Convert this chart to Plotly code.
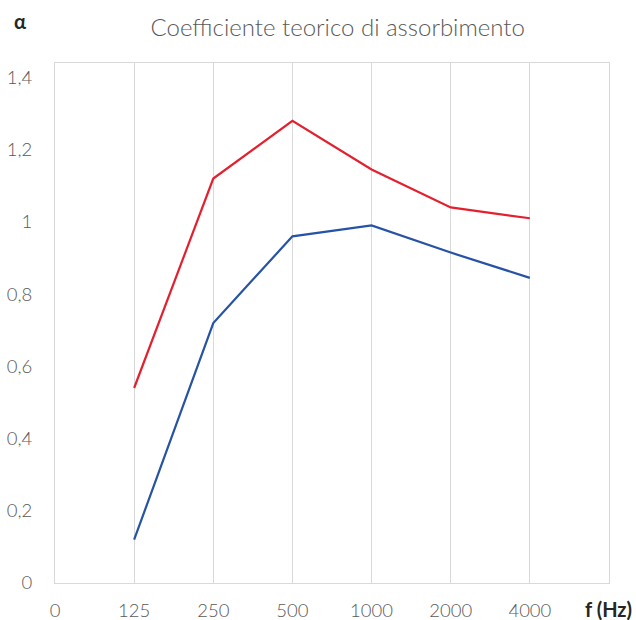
import plotly.graph_objects as go

freq_labels = ["0", "125", "250", "500", "1000", "2000", "4000"]
x_pos = [1, 2, 3, 4, 5, 6]
red_vals = [0.54, 1.12, 1.28, 1.145, 1.04, 1.01]
blue_vals = [0.12, 0.72, 0.96, 0.99, 0.915, 0.845]

fig = go.Figure()
fig.add_trace(go.Scatter(x=x_pos, y=red_vals, mode="lines",
                         line=dict(color="#E3202E", width=2.2), showlegend=False))
fig.add_trace(go.Scatter(x=x_pos, y=blue_vals, mode="lines",
                         line=dict(color="#2653A4", width=2.2), showlegend=False))

fig.update_layout(
    width=636, height=620,
    margin=dict(l=55, r=27, t=63, b=37, autoexpand=False),
    paper_bgcolor="white", plot_bgcolor="white",
    separators=",.",
    font=dict(family="Lato", color="#595959", size=18.5, weight=300),
    title=dict(text="Coefficiente teorico di assorbimento", x=0.531, xanchor="center",
               y=0.955, yanchor="middle", font=dict(size=24, color="#595959", weight=300)),
    xaxis=dict(range=[0, 7], tickvals=list(range(7)), ticktext=freq_labels,
               showgrid=True, gridcolor="#D9D9D9", gridwidth=1,
               showline=True, linecolor="#D9D9D9", mirror=True, zeroline=False,
               ticks="", ticklabelstandoff=11, automargin=False),
    yaxis=dict(range=[0, 1.44], tickvals=[0, 0.2, 0.4, 0.6, 0.8, 1, 1.2, 1.4],
               showgrid=False, showline=True, linecolor="#D9D9D9", mirror=True,
               zeroline=False, ticks="", ticklabelstandoff=18, automargin=False),
    annotations=[
        dict(text="<b>α</b>", xref="paper", yref="paper", x=-0.063, y=1.08,
             xanchor="center", yanchor="middle", showarrow=False,
             font=dict(size=20, color="#262626")),
        dict(text="<b>f (Hz)</b>", xref="paper", yref="paper", x=0.9995, y=-0.05,
             xanchor="center", yanchor="middle", showarrow=False,
             font=dict(size=20, color="#262626")),
    ],
)

fig.write_html("out.html", config={"displayModeBar": False},
               post_script="document.body.style.margin='0';document.body.style.overflow='hidden';")
